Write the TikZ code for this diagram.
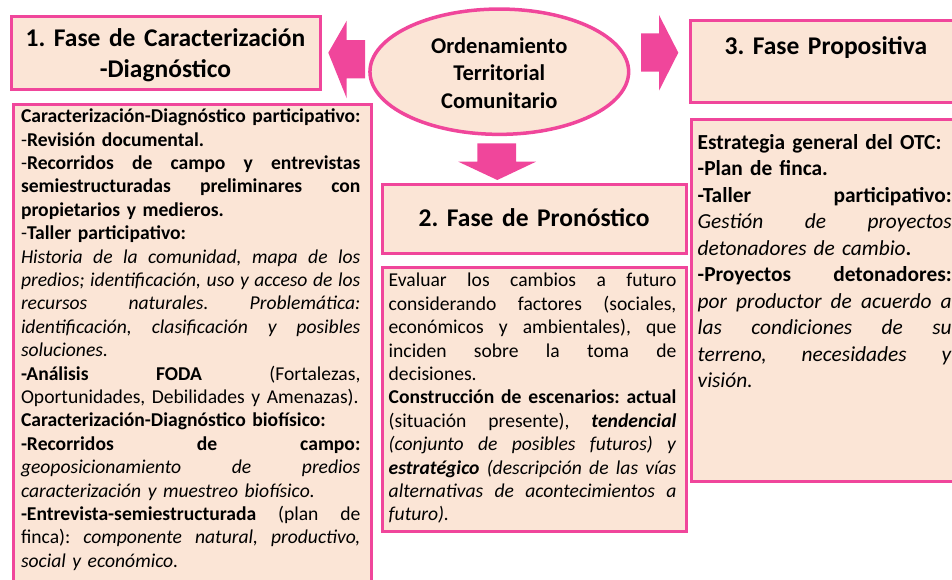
\documentclass[tikz,border=0pt]{standalone}
\usepackage{fontspec}
\setmainfont{Carlito}
\usetikzlibrary{positioning, shapes.geometric}
\frenchspacing

\definecolor{rosa}{RGB}{240,70,155}
\definecolor{durazno}{RGB}{251,229,214}

% Lineas de texto: justificada y suelta
\newcommand{\anchoLinea}{\hsize}
\newcommand{\lineaJ}[1]{\noindent\hbox to\anchoLinea{\spaceskip=.226em plus 1fil\relax\strut#1}\par}
\newcommand{\lineaI}[1]{\noindent\hbox to\anchoLinea{\strut#1\hfil}\par}

\tikzset{
  caja/.style={draw=rosa, fill=durazno, line width=3pt, inner sep=0pt},
  titulo/.style={font=\bfseries\fontsize{25.5}{31.6}\selectfont, align=center, inner sep=0pt},
  texto/.style={font=\fontsize{19.6}{23.4}\selectfont, inner sep=0pt, text width=#1,
    execute at begin node={\def\anchoLinea{#1}}},
  textoGrande/.style={texto=#1, font=\fontsize{21.4}{26.5}\selectfont},
  flecha/.style={fill=rosa},
}

\begin{document}
\begin{tikzpicture}[x=1pt, y=-1pt]
      \useasboundingbox (0,0) rectangle (952,579);
      \clip (0,0) rectangle (952,579);

      % Elipse central
      \node[caja, ellipse, line width=3.5pt, minimum width=258.7pt, minimum height=125.3pt] (otc) at (499.3,71.7) {};
      \node[font=\bfseries\fontsize{22.5}{27.5}\selectfont, align=center, text width=220pt, inner sep=0pt,
        below=26.5pt of otc.north] (totc) {\strut Ordenamiento\\\strut Territorial\\\strut Comunitario};

      % Flechas hacia las tres fases
      \fill[flecha] (328.3,52.7) -- (346.7,20.7) -- (346.7,40) -- (365,40) -- (365,78.3)
        -- (346.7,78.3) -- (346.7,98.3) -- cycle;
      \fill[flecha] (641,33.3) -- (659,33.3) -- (659,15) -- (678.3,52.7) -- (659,90.7)
        -- (659,71.7) -- (641,71.7) -- cycle;
      \fill[flecha] (477.3,143.3) -- (516,143.3) -- (516,161.7) -- (536,161.7) -- (497.3,180)
        -- (458.3,161.7) -- (477.3,161.7) -- cycle;

      % Fase 1
      \node[caja, minimum width=309pt, minimum height=72.5pt] (fase1) at (165.5,52.75) {};
      \node[titulo, text width=309pt, below=9pt of fase1.north] (tfase1)
        {\strut 1. Fase de Caracterización\\\strut -Diagnóstico};
      \node[caja, minimum width=358pt, minimum height=506pt] (cuerpo1) at (192.5,357) {};
      \node[texto=339.4pt, below right=3.6pt and 8.8pt of cuerpo1.north west] (tcuerpo1) {
        \lineaI{\textbf{Caracterización-Diagnóstico participativo:}}
        \lineaI{-\textbf{Revisión documental.}}
        \lineaJ{-\textbf{Recorridos de campo y entrevistas}}
        \lineaJ{\textbf{semiestructuradas preliminares con}}
        \lineaI{\textbf{propietarios y medieros.}}
        \lineaI{-\textbf{Taller participativo:}}
        \lineaJ{\textit{Historia de la comunidad, mapa de los}}
        \lineaJ{\textit{predios; identificación, uso y acceso de los}}
        \lineaJ{\textit{recursos naturales. Problemática:}}
        \lineaJ{\textit{identificación, clasificación y posibles}}
        \lineaI{\textit{soluciones.}}
        \lineaJ{\textbf{-Análisis FODA} (Fortalezas,}
        \lineaI{Oportunidades, Debilidades y Amenazas).}
        \lineaI{\textbf{Caracterización-Diagnóstico biofísico:}}
        \lineaJ{\textbf{-Recorridos de campo:}}
        \lineaJ{\textit{geoposicionamiento de predios}}
        \lineaI{\textit{caracterización y muestreo biofísico.}}
        \lineaJ{\textbf{-Entrevista-semiestructurada} (plan de}
        \lineaJ{finca): \textit{componente natural, productivo,}}
        \lineaI{\textit{social y económico.}}
      };

      % Fase 2
      \node[caja, minimum width=304.3pt, minimum height=68.3pt] (fase2) at (534.15,218.85) {};
      \node[titulo, text width=304.3pt, below=20.5pt of fase2.north] (tfase2) {\strut 2. Fase de Pronóstico};
      \node[caja, minimum width=304.3pt, minimum height=264.3pt] (cuerpo2) at (534.15,399.15) {};
      \node[texto=287.7pt, below right=4.9pt and 8pt of cuerpo2.north west] (tcuerpo2) {
        \lineaJ{Evaluar los cambios a futuro}
        \lineaJ{considerando factores (sociales,}
        \lineaJ{económicos y ambientales), que}
        \lineaJ{inciden sobre la toma de}
        \lineaI{decisiones.}
        \lineaJ{\textbf{Construcción de escenarios: actual}}
        \lineaJ{(situación presente), \textbf{\textit{tendencial}}}
        \lineaJ{\textit{(conjunto de posibles futuros) y}}
        \lineaJ{\textbf{\textit{estratégico}} \textit{(descripción de las vías}}
        \lineaJ{\textit{alternativas de acontecimientos a}}
        \lineaI{\textit{futuro).}}
      };

      % Fase 3
      \node[caja, minimum width=270.3pt, minimum height=81.5pt] (fase3) at (825.85,61.25) {};
      \node[titulo, text width=270.3pt, below=13.5pt of fase3.north] (tfase3) {\strut 3. Fase Propositiva};
      \node[caja, minimum width=269.7pt, minimum height=361.6pt] (cuerpo3) at (826.15,300.5) {};
      \node[textoGrande=254pt, below right=12.4pt and 7.7pt of cuerpo3.north west] (tcuerpo3) {
        \lineaI{\textbf{Estrategia general del OTC:}}
        \lineaI{\textbf{-Plan de finca.}}
        \lineaJ{\textbf{-Taller participativo:}}
        \lineaJ{\textit{Gestión de proyectos}}
        \lineaI{\textit{detonadores de cambio}\textbf{.}}
        \lineaJ{\textbf{-Proyectos detonadores:}}
        \lineaJ{\textit{por productor de acuerdo a}}
        \lineaJ{\textit{las condiciones de su}}
        \lineaJ{\textit{terreno, necesidades y}}
        \lineaI{\textit{visión.}}
      };
\end{tikzpicture}
\end{document}
